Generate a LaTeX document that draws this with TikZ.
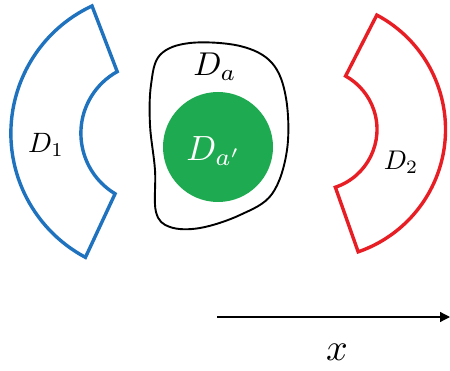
\documentclass[tikz,border=0pt]{standalone}
\usepackage[dvipsnames,rgb]{xcolor}
\usepackage{amsmath}
\usepackage{tikz}
\usetikzlibrary{arrows.meta, positioning}
\definecolor{regionblue}{RGB}{31,114,190}
\definecolor{regionred}{RGB}{232,30,37}
\definecolor{regiongreen}{RGB}{30,170,80}

\begin{document}
\begin{tikzpicture}[x=1pt, y=1pt, >=Stealth, sector/.style={line width=3.4pt, line join=miter}, every node/.style={inner sep=0pt}]
        \useasboundingbox (0,0) rectangle (450,370);

        % Regions
        \draw[sector, draw=regionblue] ([shift={(151.4,236.7)}]115:140.5) arc[start angle=115, end angle=242, radius=140.5]
            -- ([shift={(151.4,236.7)}]239:70.5) arc[start angle=239, end angle=119, radius=70.5] -- cycle;
        \draw[sector, draw=regionred] ([shift={(316,240.6)}]62:129.5) arc[start angle=62, end angle=-71, radius=129.5]
            -- ([shift={(316,240.6)}]-71.5:61) arc[start angle=-71.5, end angle=61, radius=61] -- cycle;
        \draw[line width=1.9pt] plot[smooth cycle, tension=0.6] coordinates {(190,327) (240,324) (272,307) (286,272) (287,220) (272,176) (240,155) (200,142) (170,143) (156,158) (155,200) (150,245) (151,285) (160,315)};
        \fill[regiongreen] (218,223) circle[radius=55];

        % Labels
        \node[scale=2.8] (D1) at (46,225) {$D_1$};
        \node[scale=2.7] (D2) at (401,208) {$D_2$};
        \node[scale=3.3] (Da) at (215,303) {$D_a$};
        \node[scale=3.5, text=white] (Dap) at (214,219) {$D_{a'}$};

        % Axis
        \coordinate (xstart) at (217,53);
        \coordinate (xend) at (450,53);
        \draw[line width=1.3pt, -{Triangle[length=10pt, width=10pt]}] (xstart) -- (xend);
        \node[scale=3.8] (xlabel) at (337,18) {$x$};
    \end{tikzpicture}
\end{document}
